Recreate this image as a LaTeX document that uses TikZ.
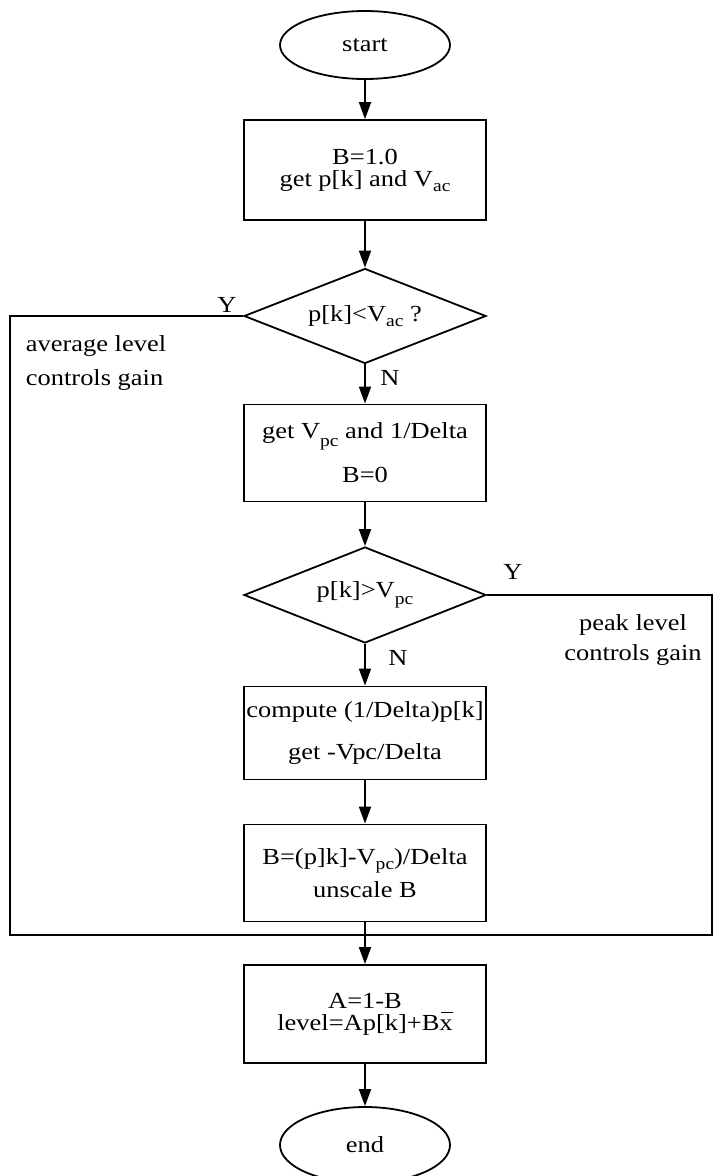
\documentclass[tikz,border=0pt]{standalone}
\usepackage{fontspec}
\setmainfont{Liberation Serif}[FakeStretch=1.15]
\usetikzlibrary{shapes.geometric,arrows.meta}

% lowered, smaller index letters (V_ac, V_pc)
\newcommand\lowsub[2][0.22em]{\raisebox{-#1}{\fontsize{17}{17}\selectfont #2}}
% x with a raised bar (mean value)
\newcommand\barx{\makebox[0pt][l]{\hspace{0.05em}\raisebox{0.76em}{\rule{0.55em}{0.05em}}}x}

\begin{document}
\begin{tikzpicture}[x=1pt,y=-1pt, line width=1.8pt,
  every node/.style={font=\fontsize{23}{22}\selectfont},
  procbox/.style={draw, rectangle, minimum width=242pt, minimum height=96pt,
                  inner sep=0pt, align=center},
  termnode/.style={draw, ellipse, minimum width=170pt, minimum height=68pt, inner sep=0pt},
  decision/.style={draw, diamond, aspect=2.5, minimum width=242pt, minimum height=95pt,
                   inner sep=0pt},
  flow/.style={-{Triangle[length=17pt,width=12pt]}},
  branchlabel/.style={inner sep=0pt}]

\useasboundingbox (0,0) rectangle (714,1176);

% main column
\node[termnode] (start) at (365,45) {start};
\node[procbox, minimum height=100pt] (init) at (365,170)
  {B=1.0\\get p[k] and V\lowsub{ac}};
\node[decision] (avgtest) at (365,316) {p[k]<V\lowsub{ac} ?};
\node[procbox, minimum height=97pt] (peakget) at (365,453)
  {get V\lowsub[0.35em]{pc} and 1/Delta\\[16pt]B=0};
\node[decision, minimum height=96pt] (peaktest) at (365,595) {p[k]>V\lowsub[0.3em]{pc}};
\node[procbox, minimum height=93pt] (scale) at (365,733)
  {compute (1/Delta)p[k]\\[20pt]get -V\kern-0.12em pc/Delta};
\node[procbox, minimum height=97pt] (gain) at (365,873)
  {B=(p]k]-V\lowsub{pc})/Delta\\[8pt]unscale B};
\node[procbox, minimum height=98pt] (mix) at (365,1014)
  {A=1-B\\level=Ap[k]+B\barx};
\node[termnode, minimum height=76pt] (end) at (365,1145) {end};

% branch labels and notes
\node[branchlabel] (ylabel1) at (227,305) {Y};
\node[branchlabel] (nlabel1) at (390,378) {N};
\node[branchlabel] (ylabel2) at (513,572) {Y};
\node[branchlabel] (nlabel2) at (398,658) {N};
\node[branchlabel, anchor=west, align=left] (avgnote) at (25,363)
  {average level\\[12pt]controls gain};
\node[branchlabel, align=center] (peaknote) at (633,640)
  {peak level\\[8pt]controls gain};

% junction of the two bypass lines
\coordinate (mergeL) at (10,935);
\coordinate (mergeR) at (712,935);
\coordinate (merge) at (365,935);

% connectors
\draw[flow] (start.south) -- (init.north);
\draw[flow] (init.south) -- (avgtest.north);
\draw[flow] (avgtest.south) -- (peakget.north);
\draw[flow] (peakget.south) -- (peaktest.north);
\draw[flow] (peaktest.south) -- (scale.north);
\draw[flow] (scale.south) -- (gain.north);
\draw[flow] (gain.south) -- (mix.north);
\draw[flow] (mix.south) -- (end.north);

\draw (avgtest.west) -| (mergeL) -- (merge);
\draw (peaktest.east) -| (mergeR) -- (merge);
\end{tikzpicture}
\end{document}
